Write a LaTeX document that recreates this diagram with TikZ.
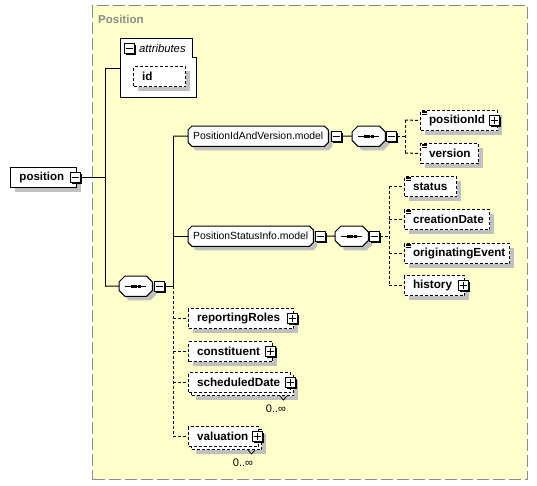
\documentclass[tikz,border=0pt]{standalone}
\usepackage{fontspec}
\setmainfont{Liberation Sans}
\usetikzlibrary{calc,shadows,backgrounds}
\definecolor{bgyellow}{HTML}{FFFFCC}
\definecolor{shadowgray}{HTML}{C0C0C0}
\definecolor{framegray}{HTML}{8C8C8C}
\newcommand\pmbx[4]{% name, x, y, 1 = plus
  \fill[black] (#2-3,#3-3) rectangle (#2+6.5,#3+6.5);
  \node[pmb] (#1) at (#2,#3) {};
  \draw[line width=0.9pt] (#2-3.5,#3) -- (#2+3.5,#3);
  \ifnum#4=1 \draw[line width=0.9pt] (#2,#3-3.5) -- (#2,#3+3.5);\fi}
\newcommand\octfill[2]{% node, chamfer
  \path[shad, draw=black, line width=1pt, fill=white]
    ($(#1.north west)+(#2,0)$) -- ($(#1.north east)+(-#2,0)$) --
    ($(#1.north east)+(0,#2)$) -- ($(#1.south east)+(0,-#2)$) --
    ($(#1.south east)+(-#2,0)$) -- ($(#1.south west)+(#2,0)$) --
    ($(#1.south west)+(0,-#2)$) -- ($(#1.north west)+(0,#2)$) -- cycle;}
\newcommand\seqsym[1]{%
  \octfill{#1}{6}
  \draw[line width=1pt] ($(#1.west)+(6,0)$) -- ($(#1.east)+(-6,0)$);
  \foreach \d in {-3.6,0,3.6}
    \fill ($(#1.center)+(\d-1.4,-1.4)$) rectangle ($(#1.center)+(\d+1.4,1.4)$);}
\newcommand\modeloct[1]{\begin{scope}[on background layer]\octfill{#1}{4}\end{scope}}
\newcommand\elicon[1]{%
  \foreach \k in {1,2.5,4}
    \draw[line width=0.7pt] ($(#1.north west)+(2,\k)$) -- ++(5,0);}
\begin{document}
\begin{tikzpicture}[x=1pt,y=-1pt,
  conn/.style={line width=1pt},
  dconn/.style={line width=1pt, dash pattern=on 3pt off 2pt},
  shad/.style={general shadow={fill=shadowgray, draw=none, shadow xshift=4pt, shadow yshift=-4pt}},
  ebase/.style={draw=black, line width=1pt, dash pattern=on 3pt off 2pt, fill=white,
    anchor=north west, inner xsep=8.5pt, inner ysep=0pt, minimum height=20pt, align=left,
    font=\bfseries\fontsize{11.7}{13}\selectfont, execute at begin node={\hyphenpenalty=10000 }},
  elem/.style={ebase, shad},
  melem/.style={ebase,
    general shadow={fill=shadowgray, draw=none, shadow xshift=7pt, shadow yshift=-7pt},
    general shadow={fill=white, draw=black, line width=1pt, dash pattern=on 3pt off 2pt, shadow xshift=3pt, shadow yshift=-3pt}},
  pmb/.style={draw=black, fill=white, line width=1pt, minimum size=10pt, inner sep=0pt},
  model/.style={anchor=north west, inner xsep=5pt, inner ysep=0pt, minimum height=20pt,
    align=left, font=\fontsize{10.4}{12}\selectfont, execute at begin node={\hyphenpenalty=10000 }},
  seqbox/.style={anchor=north west, minimum width=33pt, minimum height=20pt, inner sep=0pt},
  occ/.style={inner sep=0pt, font=\fontsize{11}{12}\selectfont},
]
\useasboundingbox (0,0) rectangle (537,485);
\begin{scope}[on background layer]
  \fill[white] (0,0) rectangle (537,485);
  \node[draw=framegray, fill=bgyellow, line width=1.2pt, dash pattern=on 12pt off 4pt,
    anchor=north west, minimum width=435pt, minimum height=474pt, inner sep=0pt] (frame) at (92,5) {};
\end{scope}
\node[anchor=west, text=framegray, font=\bfseries\fontsize{11.5}{13}\selectfont, inner sep=0pt] (frametitle) at (98,19) {Position};

% root element
\node[draw=black, line width=1pt, fill=white, shad, anchor=north west, minimum width=66pt,
  minimum height=20pt, inner xsep=9pt, inner ysep=0pt, text width=48pt, align=left,
  font=\bfseries\fontsize{11.5}{13}\selectfont] (position) at (10,167) {position};
\pmbx{pm0}{75}{177}{0}
\coordinate (j1t) at (105,68);
\coordinate (j1b) at (105,286);
\draw[conn] (pm0.east) -- (pm0.east -| j1t);
\draw[conn] (j1t) -- (j1b);

% attributes
\node[anchor=north west, minimum width=76pt, minimum height=59pt, inner sep=0pt] (attr) at (120,38) {};
\draw[line width=1pt, fill=white] (attr.north west) -- ($(attr.north east)+(-4,0)$) --
  ($(attr.north east)+(-4,19)$) -- ($(attr.north east)+(0,19)$) -- (attr.south east) --
  (attr.south west) -- cycle;
\draw[conn] (j1t) -- (j1t -| attr.west);
\pmbx{pma}{129}{48}{0}
\node[anchor=west, inner sep=0pt, font=\itshape\fontsize{11.3}{13}\selectfont] (attrlabel) at (139,48) {attributes};
\node[elem, text width=35pt] (id) at (133,66) {id};

% main sequence
\node[seqbox] (seq1) at (119,276) {};
\seqsym{seq1}
\draw[conn] (j1b) -- (seq1.west);
\pmbx{pm1}{159}{286}{0}
\coordinate (v2t) at (173,136);
\coordinate (v2m) at (173,286);
\coordinate (v2b) at (173,436);
\draw[conn] (pm1.east) -- (v2m);
\draw[conn] (v2t) -- (v2m);
\draw[dconn] (v2m) -- (v2b);

% PositionIdAndVersion.model
\node[model, text width=130pt] (m1) at (188,126) {PositionIdAndVersion.model};
\modeloct{m1}
\draw[conn] (v2t) -- (m1.west);
\pmbx{pm2}{336}{136}{0}
\node[seqbox] (seq2) at (352,126) {};
\seqsym{seq2}
\draw[conn] (pm2.east) -- (seq2.west);
\pmbx{pm3}{391}{136}{0}
\coordinate (v3t) at (405,120);
\coordinate (v3b) at (405,153);
\draw[dconn] (pm3.east) -- (pm3.east -| v3t);
\draw[dconn] (v3t) -- (v3b);
\node[elem, text width=60pt] (positionId) at (420,110) {positionId};
\pmbx{pm6}{494}{120}{1}
\node[elem, text width=41pt] (version) at (420,143) {version};
\draw[dconn] (v3t) -- (positionId.west);
\draw[dconn] (v3b) -- (version.west);
\elicon{positionId}
\elicon{version}

% PositionStatusInfo.model
\node[model, text width=115pt] (m2) at (188,226) {PositionStatusInfo.model};
\modeloct{m2}
\draw[conn] (m2.west -| v2t) -- (m2.west);
\pmbx{pm4}{320}{236}{0}
\node[seqbox] (seq3) at (335,226) {};
\seqsym{seq3}
\draw[conn] (pm4.east) -- (seq3.west);
\pmbx{pm5}{374}{236}{0}
\coordinate (v4t) at (389,186);
\coordinate (v4b) at (389,285);
\draw[dconn] (pm5.east) -- (pm5.east -| v4t);
\draw[dconn] (v4t) -- (v4b);
\node[elem, text width=35pt] (status) at (404,176) {status};
\node[elem, text width=68pt] (creationDate) at (404,209) {creationDate};
\node[elem, text width=88pt] (originatingEvent) at (404,243) {originatingEvent};
\node[elem, text width=43pt] (history) at (404,275) {history};
\pmbx{pm7}{463}{285}{1}
\foreach \n in {status,creationDate,originatingEvent,history}
  \draw[dconn] (\n.west -| v4t) -- (\n.west);
\elicon{status}
\elicon{creationDate}
\elicon{originatingEvent}

% bottom elements
\node[elem, text width=88pt] (reportingRoles) at (188,308) {reportingRoles};
\pmbx{pm8}{292}{318}{1}
\node[elem, text width=67pt] (constituent) at (188,341) {constituent};
\pmbx{pm9}{270}{351}{1}
\node[melem, text width=85pt] (scheduledDate) at (188,372) {scheduledDate};
\pmbx{pm10}{290}{382}{1}
\node[melem, text width=53pt] (valuation) at (188,426) {valuation};
\pmbx{pm11}{257}{436}{1}
\foreach \n in {reportingRoles,constituent,scheduledDate,valuation}
  \draw[dconn] (\n.west -| v2t) -- (\n.west);
\draw[line width=0.8pt] ($(scheduledDate.south east)+(-11,3)$) -- ++(3.5,4) -- ++(3.5,-4);
\draw[line width=0.8pt] ($(valuation.south east)+(-11,3)$) -- ++(3.5,4) -- ++(3.5,-4);
\node[occ] (occ1) at ($(scheduledDate.south east)+(-15,16)$) {0..∞};
\node[occ] (occ2) at ($(valuation.south east)+(-16,16)$) {0..∞};
\end{tikzpicture}
\end{document}
